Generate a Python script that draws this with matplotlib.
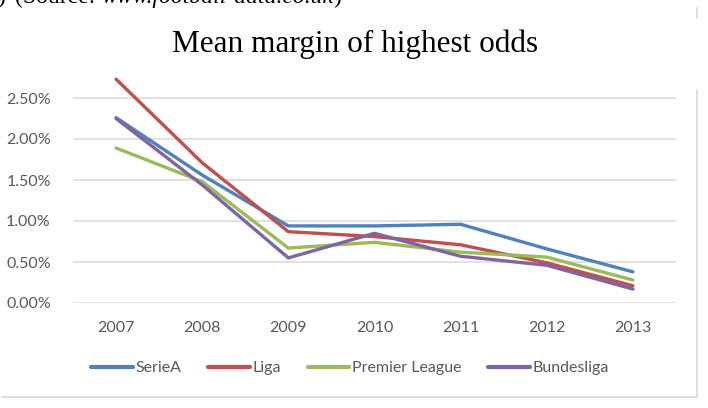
import matplotlib as mpl
mpl.use('Agg')
import matplotlib.pyplot as plt
from matplotlib.lines import Line2D
from matplotlib.ticker import FuncFormatter

# data (margin in %)
years = [2007, 2008, 2009, 2010, 2011, 2012, 2013]
seriea = [2.26, 1.56, 0.94, 0.94, 0.96, 0.66, 0.38]
liga = [2.73, 1.71, 0.87, 0.81, 0.71, 0.49, 0.21]
premier = [1.89, 1.48, 0.67, 0.74, 0.62, 0.56, 0.28]
bundes = [2.25, 1.44, 0.55, 0.85, 0.57, 0.46, 0.17]
names = ['SerieA', 'Liga', 'Premier League', 'Bundesliga']
colors = ['#4F81BD', '#C0504D', '#9BBB59', '#8064A2']
yticks = [0.0, 0.5, 1.0, 1.5, 2.0, 2.5]

W, H = 708, 408
fig = plt.figure(figsize=(W / 100., H / 100.), dpi=100)
fig.patch.set_facecolor('white')

# clipped caption line at the very top of the page
serif = 'Liberation Serif'
rend = fig.canvas.get_renderer()
base = 1 - 3 / H
fig.text(5 / W, base, ')', fontsize=17, family=serif, va='baseline', ha='right')
x0 = 15
for txt, style in [('(Source: ', 'normal'), ('www.football-data.co.uk', 'italic'), (')', 'normal')]:
    t = fig.text(x0 / W, base, txt, fontsize=17, family=serif, style=style,
                 va='baseline', ha='left')
    x0 += t.get_window_extent(renderer=rend).width

fig.text(355 / W, 1 - 52 / H, 'Mean margin of highest odds', fontsize=22.5,
         family=serif, ha='center', va='baseline')

# chart area border (light grey)
fig.add_artist(Line2D([697 / W, 697 / W], [1 - 90 / H, 1 - 397 / H], color='#d9d9d9', lw=1.2))
fig.add_artist(Line2D([697 / W, 697 / W], [1 - 8 / H, 1 - 18 / H], color='#d9d9d9', lw=1.2))
fig.add_artist(Line2D([2 / W, 697 / W], [1 - 397 / H, 1 - 397 / H], color='#d9d9d9', lw=1.2))

ymax = 2.85
top_px = 303 - ymax / 0.5 * 41
ax = fig.add_axes([73 / W, 1 - 303 / H, (676 - 73) / W, (303 - top_px) / H])
for v in yticks:
    ax.axhline(v, color='#d9d9d9', lw=1.1, zorder=1)

lines = []
for vals, name, c in zip([seriea, liga, premier, bundes], names, colors):
    lines += ax.plot(years, vals, '-', color=c, lw=2.4, label=name, zorder=3,
                     solid_capstyle='round', clip_on=False)

ax.set_xlim(2006.5, 2013.5)
ax.set_ylim(0, ymax)
ax.set_xticks(years)
ax.set_yticks(yticks)
ax.yaxis.set_major_formatter(FuncFormatter(lambda v, p: '%.2f%%' % v))
for s in ax.spines.values():
    s.set_visible(False)
ax.tick_params(length=0, labelsize=11.5, labelcolor='#595959')
ax.tick_params(axis='x', pad=13)
ax.tick_params(axis='y', pad=16)
for lab in ax.get_xticklabels() + ax.get_yticklabels():
    lab.set_family('Lato')

leg = fig.legend(lines, names, loc='center', bbox_to_anchor=(350 / W, 1 - 368 / H),
                 ncol=4, frameon=False, handlelength=2.6, handletextpad=0.15,
                 columnspacing=1.7, prop={'family': 'Lato', 'size': 11.5})
for t in leg.get_texts():
    t.set_color('#595959')
for h in leg.get_lines():
    h.set_linewidth(3.0)

plt.savefig('out.png', dpi=100)
